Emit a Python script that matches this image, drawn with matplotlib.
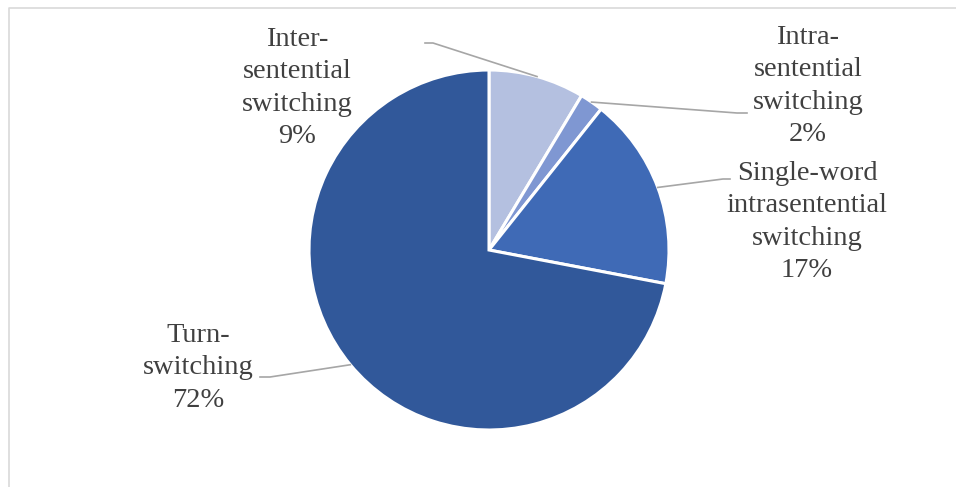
import matplotlib.pyplot as plt
import numpy as np

# data
labels = ["Inter-\nsentential\nswitching", "Intra-\nsentential\nswitching",
          "Single-word\nintrasentential\nswitching", "Turn-\nswitching"]
shares = [8.6, 2.1, 17.3, 72.0]
colors = ["#b4c0e0", "#7f97d2", "#3f6ab6", "#31589a"]

W, H = 956, 487
fig = plt.figure(figsize=(W / 100, H / 100), dpi=100)
ax = fig.add_axes([0, 0, 1, 1])

cx, cy, r = 489, H - 250, 180
wedges, _ = ax.pie(shares, colors=colors, startangle=90, counterclock=False,
                   center=(cx, cy), radius=r, frame=True,
                   wedgeprops=dict(edgecolor="white", linewidth=2.2))
ax.set_xlim(0, W)
ax.set_ylim(0, H)
ax.axis("off")

# chart border (only top / left visible)
ax.plot([9, 9, W + 5], [-5, H - 8, H - 8], color="#d9d9d9", lw=1.2, clip_on=False)

# label centres and elbow points (pixels, top-down y)
label_pos = [(297, 88), (808, 86), (807, 222), (198, 368)]
elbows = [[(425, 43), (433, 43)], [(747, 113), (737, 113)],
          [(730, 179), (723, 179)], [(260, 377), (270, 377)]]

for w, lab, s, (lx, ly), el in zip(wedges, labels, shares, label_pos, elbows):
    mid = np.deg2rad((w.theta1 + w.theta2) / 2)
    sx, sy = cx + r * np.cos(mid), cy + r * np.sin(mid)
    xs = [p[0] for p in el] + [sx]
    ys = [H - p[1] for p in el] + [sy]
    ax.plot(xs, ys, color="#a6a6a6", lw=1.2)
    ax.text(lx, H - ly, "{}\n{:.0f}%".format(lab, s), ha="center", va="center",
            multialignment="center", fontsize=20.5, family="Liberation Serif",
            color="#404040", linespacing=1.38)

fig.savefig("out.png", dpi=100)
